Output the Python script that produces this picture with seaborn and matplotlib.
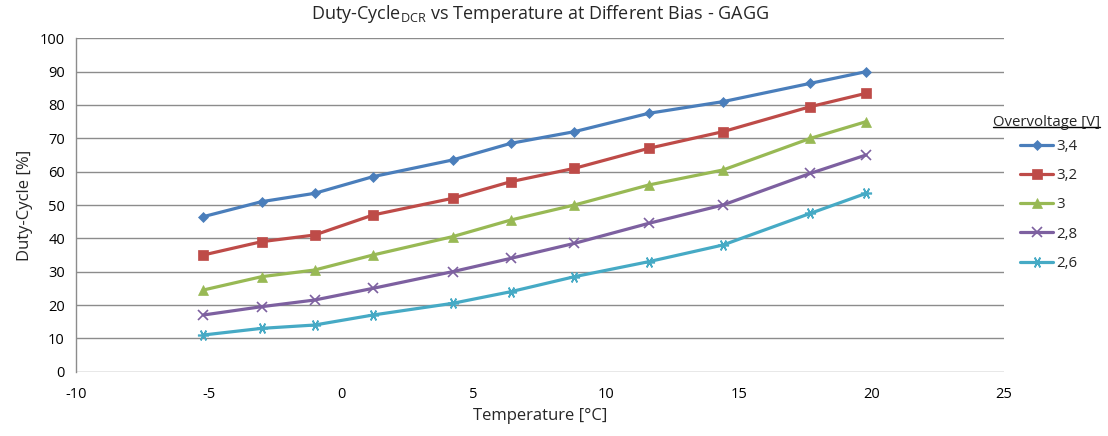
import matplotlib
matplotlib.use("Agg")
import matplotlib.pyplot as plt
from matplotlib.lines import Line2D
import seaborn as sns
import pandas as pd
import numpy as np

temperature = [-5.2, -3.0, -1.0, 1.2, 4.2, 6.4, 8.8, 11.6, 14.4, 17.7, 19.8]
dc_34 = [46.5, 51.0, 53.5, 58.5, 63.5, 68.5, 72.0, 77.5, 81.0, 86.5, 90.0]
dc_32 = [35.0, 39.0, 41.0, 47.0, 52.0, 57.0, 61.0, 67.0, 72.0, 79.5, 83.5]
dc_30 = [24.5, 28.5, 30.5, 35.0, 40.5, 45.5, 50.0, 56.0, 60.5, 70.0, 75.0]
dc_28 = [17.0, 19.5, 21.5, 25.0, 30.0, 34.0, 38.5, 44.5, 50.0, 59.5, 65.0]
dc_26 = [11.0, 13.0, 14.0, 17.0, 20.5, 24.0, 28.5, 33.0, 38.0, 47.5, 53.5]
series_labels = ["3,4", "3,2", "3", "2,8", "2,6"]
series_values = [dc_34, dc_32, dc_30, dc_28, dc_26]
legend_title = "Overvoltage [V]"

colors = ["#4A7EBB", "#BE4B48", "#98B954", "#7D60A0", "#46AAC5"]
markers = ["D", "s", "^", "x", (6, 2, 90)]
msizes = [5, 7, 7, 7, 8]

sns.set_theme(style="white")
FONT = 'Open Sans'
plt.rcParams['font.family'] = [FONT, 'DejaVu Sans']
plt.rcParams['mathtext.fontset'] = 'custom'
plt.rcParams['mathtext.rm'] = FONT
plt.rcParams['mathtext.it'] = FONT
plt.rcParams['axes.unicode_minus'] = False

df = pd.DataFrame({
    "Temperature": np.tile(temperature, len(series_labels)),
    "Duty": np.concatenate(series_values),
    "Overvoltage": np.repeat(series_labels, len(temperature)),
})

fig = plt.figure(figsize=(11.08, 4.36), dpi=100)
ax = fig.add_axes([76/1108, 1-371.7/436, (1004-76)/1108, (371.7-38.3)/436])

for lab, c, m, ms in zip(series_labels, colors, markers, msizes):
    sub = df[df["Overvoltage"] == lab]
    sns.lineplot(data=sub, x="Temperature", y="Duty", ax=ax, color=c,
                 marker=m, markersize=ms, linewidth=2.3, label=lab,
                 markeredgecolor=c, markeredgewidth=1.2 if m in ("x",) or isinstance(m, tuple) else 0.5)

ax.set_xlim(-10, 25)
ax.set_ylim(0, 100)
ax.set_xticks(np.arange(-10, 26, 5))
ax.set_yticks(np.arange(0, 101, 10))
ax.yaxis.grid(True, color="#8C8C8C", linewidth=1.0)
ax.xaxis.grid(False)
for s in ["top", "right", "bottom"]:
    ax.spines[s].set_visible(False)
ax.spines["left"].set_color("#8C8C8C")
ax.spines["left"].set_linewidth(1.0)
ax.tick_params(axis="both", labelsize=10.5, length=0, colors="#000000")
ax.tick_params(axis="x", pad=11)
ax.tick_params(axis="y", pad=8)
ax.set_xlabel("Temperature [°C]", fontsize=12, labelpad=4)
ax.set_ylabel("Duty-Cycle [%]", fontsize=12, labelpad=5)
ax.set_title(r"Duty-Cycle$_{\mathrm{DCR}}$ vs Temperature at Different Bias - GAGG",
             fontsize=13, pad=14)

ax.get_legend().remove()
handles, labels = ax.get_legend_handles_labels()
leg = fig.legend(handles, labels,
                 loc="upper left", bbox_to_anchor=(1014/1108, 1-133/436),
                 frameon=False, fontsize=10.8,
                 handlelength=2.2, handletextpad=0.2, labelspacing=0.95,
                 borderaxespad=0)

ttl = fig.text(993/1108, 1-122/436, legend_title, fontsize=10.8,
               ha="left", va="center")
fig.canvas.draw()
tb = ttl.get_window_extent(fig.canvas.get_renderer())
inv = fig.transFigure.inverted()
(x0, y0), (x1, y1) = inv.transform([[tb.x0, tb.y0], [tb.x1, tb.y1]])
fig.add_artist(Line2D([x0, x1], [y0 + 0.006, y0 + 0.006], color="black",
                      linewidth=1.0, transform=fig.transFigure))

fig.savefig("out.png", dpi=100)
